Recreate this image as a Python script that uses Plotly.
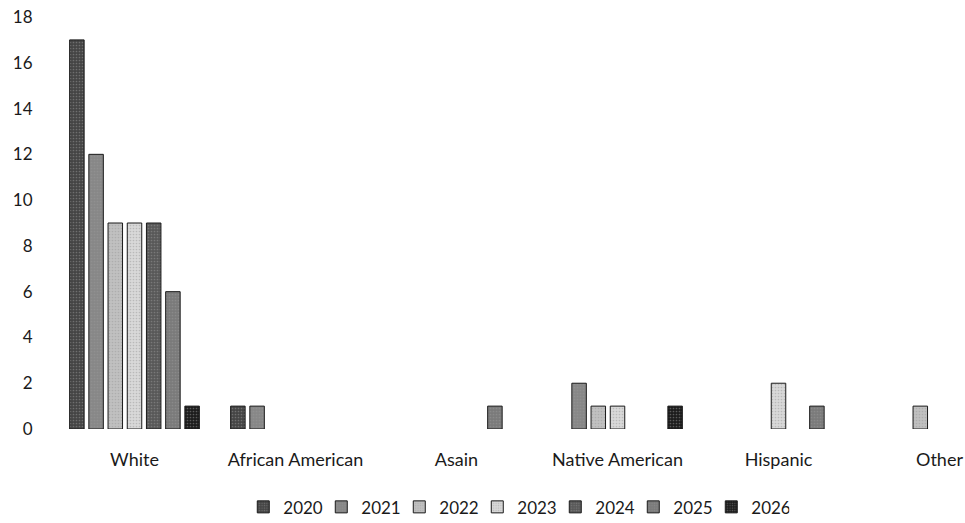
import plotly.graph_objects as go

categories = ["White", "African American", "Asain", "Native American", "Hispanic", "Other"]

years = ["2020", "2021", "2022", "2023", "2024", "2025", "2026"]

counts_2020 = [17, 1, 0, 0, 0, 0]
counts_2021 = [12, 1, 0, 2, 0, 0]
counts_2022 = [9, 0, 0, 1, 0, 1]
counts_2023 = [9, 0, 0, 1, 2, 0]
counts_2024 = [9, 0, 0, 0, 0, 0]
counts_2025 = [6, 0, 1, 0, 1, 0]
counts_2026 = [1, 0, 0, 1, 0, 0]

series = [counts_2020, counts_2021, counts_2022, counts_2023, counts_2024, counts_2025, counts_2026]
colors = ["#444444", "#878787", "#c0c0c0", "#d8d8d8", "#585858", "#7a7a7a", "#1c1c1c"]

font_family = "Lato, 'Open Sans', sans-serif"
text_color = "#1a1a1a"

fig = go.Figure()
for year, values, color in zip(years, series, colors):
    # zero counts draw nothing in the original (no outline sliver)
    shown = [v if v else None for v in values]
    fig.add_trace(
        go.Bar(
            x=categories,
            y=shown,
            name=year,
            marker=dict(
                color=color,
                line=dict(color="#1a1a1a", width=1),
                pattern=dict(shape=".", size=3, solidity=0.25, fgcolor="#9a9a9a", fillmode="overlay"),
            ),
        )
    )

fig.update_layout(
    width=965,
    height=523,
    barmode="group",
    bargap=0.165,
    bargroupgap=0.245,
    plot_bgcolor="white",
    paper_bgcolor="white",
    margin=dict(l=54, r=2, t=17, b=94, autoexpand=False),
    font=dict(family=font_family, size=17, color=text_color),
    showlegend=True,
    legend=dict(
        orientation="h",
        xref="container",
        yref="container",
        x=0.535,
        xanchor="center",
        y=0.03,
        yanchor="middle",
        entrywidth=33,
        itemwidth=30,
        font=dict(size=17, color=text_color),
        traceorder="normal",
    ),
)

fig.update_xaxes(
    range=[-0.5, 5.146],
    automargin=False,
    showgrid=False,
    showline=False,
    zeroline=False,
    ticks="outside",
    ticklen=14,
    tickcolor="rgba(0,0,0,0)",
    tickfont=dict(size=18),
)
fig.update_yaxes(
    range=[0, 18],
    dtick=2,
    automargin=False,
    showgrid=False,
    showline=False,
    zeroline=False,
    ticks="outside",
    ticklen=17,
    tickcolor="rgba(0,0,0,0)",
)

# drop the browser's default body margin so the figure fills the window exactly
fig.write_html(
    "out.html",
    config={"displayModeBar": False},
    post_script="document.body.style.margin='0px';",
)
